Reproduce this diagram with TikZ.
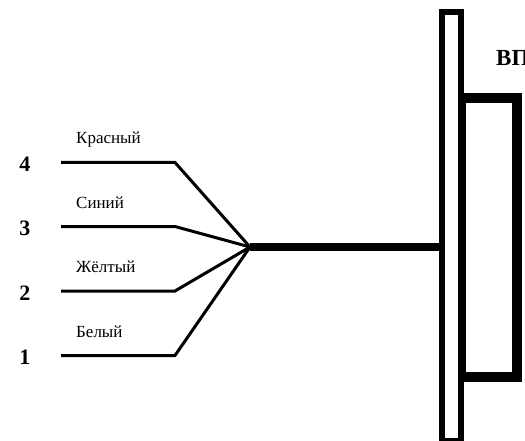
\documentclass[tikz,border=0pt]{standalone}
\usepackage{fontspec}
\setmainfont{Liberation Serif}
\tikzset{
  wire/.style={line width=3pt},
  trunk/.style={line width=8pt},
  numlabel/.style={anchor=base,inner sep=0pt,font=\fontsize{22}{22}\selectfont\bfseries},
  colorlabel/.style={anchor=base west,inner sep=0pt,font=\fontsize{17}{17}\selectfont}
}
\begin{document}
\begin{tikzpicture}[x=1pt,y=-1pt]
    \useasboundingbox (0,0) rectangle (525,441);
    \draw[line width=9.5pt] (461,98) rectangle (517,377);
    \draw[line width=6pt,fill=white] (441.5,12) rectangle (461,441);
    \node[anchor=base west,inner sep=0pt,font=\fontsize{23}{23}\selectfont\bfseries] (name) at (496,66) {ВП};
    \coordinate (hub) at (250,247);
    \coordinate (port) at (441.5,247);
    \foreach \n/\y/\t in {%
        4/162.5/Красный,
        3/226.5/Синий,
        2/291/Жёлтый,
        1/355.5/Белый} {
      \coordinate (start\n) at (61,\y);
      \coordinate (bend\n) at (175,\y);
      \draw[wire] (start\n) -- (bend\n) -- (hub);
      \node[numlabel] (num\n) at (25,\y+9) {\n};
      \node[colorlabel] (lab\n) at (76,\y-18.5) {\t};
    }
    \draw[trunk] (hub) -- (port);
  \end{tikzpicture}
\end{document}
